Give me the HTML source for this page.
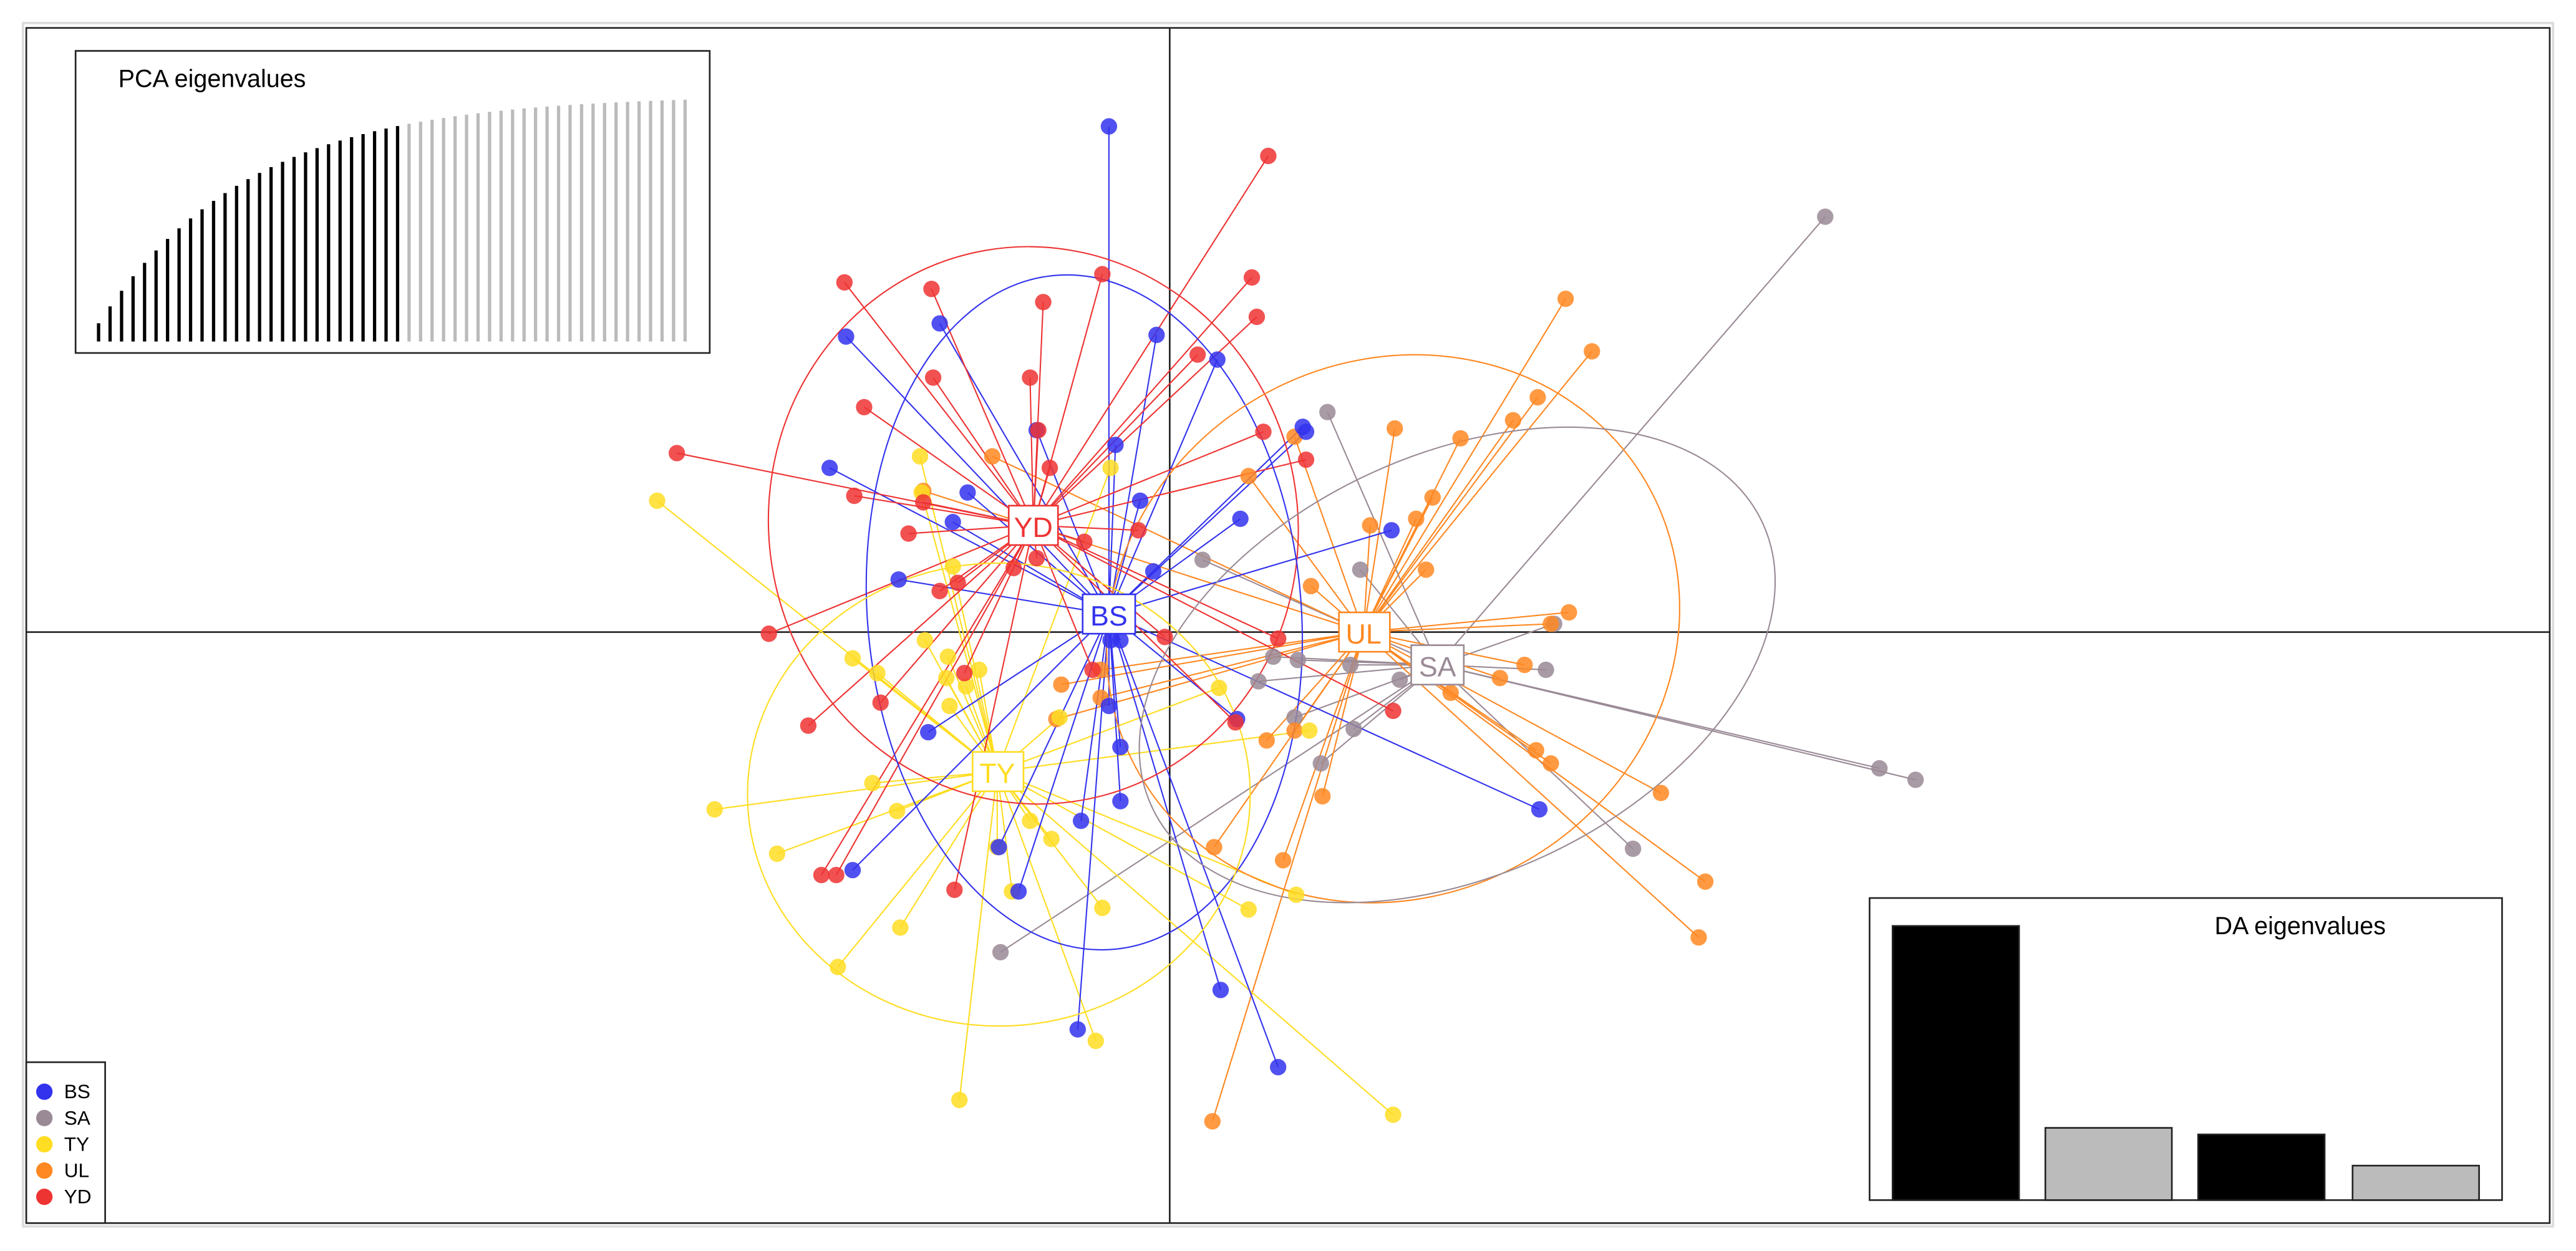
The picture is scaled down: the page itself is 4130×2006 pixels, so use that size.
<!DOCTYPE html>
<html><head><meta charset="utf-8"><style>
html,body{margin:0;padding:0;background:#fff;}
svg{display:block;}
text{font-family:"Liberation Sans",sans-serif;}
</style></head><body>
<svg id="s" width="4130" height="2006" viewBox="0 0 1568 762" preserveAspectRatio="none" xmlns="http://www.w3.org/2000/svg">
<rect x="0" y="0" width="1568" height="762" fill="#fff"/>
<rect x="14" y="14" width="1540" height="733" fill="none" stroke="#ddd" stroke-width="1.5"/>
<rect x="16" y="17" width="1536" height="728" fill="none" stroke="#222" stroke-width="1"/>
<line x1="16" y1="385" x2="1552" y2="385" stroke="#222" stroke-width="1"/>
<line x1="712" y1="17" x2="712" y2="745" stroke="#222" stroke-width="1"/>
<g id="lines" stroke-width="0.8"></g>
<g fill="none" stroke-width="0.8">
<ellipse cx="629" cy="320" rx="161" ry="170" stroke="#ee3333" transform="rotate(-10 629 320)"/>
<ellipse cx="660" cy="373" rx="132" ry="206" stroke="#3333ee" transform="rotate(-5 660 373)"/>
<ellipse cx="608" cy="484" rx="153" ry="141" stroke="#ffdd22"/>
<ellipse cx="848" cy="383" rx="178" ry="163" stroke="#ff8822" transform="rotate(-30 848 383)"/>
<ellipse cx="887" cy="405" rx="205" ry="128" stroke="#9a8a96" transform="rotate(-25 887 405)"/>
</g>
<g id="dots"></g>
<g font-size="17">
<rect x="614" y="308" width="30" height="24" fill="#fff" stroke="#ee3333"/><text x="629" y="327" fill="#ee3333" text-anchor="middle">YD</text>
<rect x="659" y="362" width="32" height="24" fill="#fff" stroke="#3333ee"/><text x="675" y="381" fill="#3333ee" text-anchor="middle">BS</text>
<rect x="815" y="373" width="31" height="24" fill="#fff" stroke="#ff8822"/><text x="830" y="392" fill="#ff8822" text-anchor="middle">UL</text>
<rect x="859" y="393" width="32" height="24" fill="#fff" stroke="#9a8a96"/><text x="875" y="412" fill="#9a8a96" text-anchor="middle">SA</text>
<rect x="592" y="458" width="31" height="24" fill="#fff" stroke="#ffdd22"/><text x="607" y="477" fill="#ffdd22" text-anchor="middle">TY</text>
</g>
<rect x="46" y="31" width="386" height="184" fill="#fff" stroke="#222"/>
<text x="72" y="53" font-size="15" fill="#000">PCA eigenvalues</text>
<g id="pca" stroke-width="2"></g>
<rect x="1138" y="547" width="385" height="184" fill="#fff" stroke="#222"/>
<text x="1348" y="569" font-size="15" fill="#000">DA eigenvalues</text>
<rect x="1152" y="564" width="77" height="167" fill="#000" stroke="#222"/>
<rect x="1245" y="687" width="77" height="44" fill="#bbb" stroke="#222"/>
<rect x="1338" y="691" width="77" height="40" fill="#000" stroke="#222"/>
<rect x="1432" y="710" width="77" height="21" fill="#bbb" stroke="#222"/>
<rect x="16" y="647" width="48" height="98" fill="#fff" stroke="#222"/>
<g font-size="12">
<circle cx="27" cy="665" r="5" fill="#3333ee"/><text x="39" y="669">BS</text>
<circle cx="27" cy="681" r="5" fill="#9a8a96"/><text x="39" y="685">SA</text>
<circle cx="27" cy="697" r="5" fill="#ffdd22"/><text x="39" y="701">TY</text>
<circle cx="27" cy="713" r="5" fill="#ff8822"/><text x="39" y="717">UL</text>
<circle cx="27" cy="729" r="5" fill="#ee3333"/><text x="39" y="733">YD</text>
</g>
</svg>
<script>
(function(){
var NS="http://www.w3.org/2000/svg";
var G={
BS:{c:[675,374],col:"#3333ee",p:[[675,77],[515,205],[572,197],[704,204],[741,219],[505,285],[589,300],[580,318],[631,262],[679,271],[694,305],[547,353],[702,348],[793,260],[795,263],[755,316],[847,323],[565,446],[675,430],[682,455],[658,500],[682,488],[608,516],[620,543],[519,530],[656,627],[743,603],[778,650],[937,493],[753,438],[676,390],[682,390]]},
YD:{c:[629,320],col:"#ee3333",p:[[772,95],[514,172],[567,176],[635,184],[671,167],[762,169],[765,193],[729,216],[568,230],[627,230],[526,248],[632,262],[639,285],[412,276],[520,302],[562,306],[553,325],[769,263],[795,280],[693,323],[660,330],[583,355],[572,360],[617,346],[631,340],[468,386],[709,388],[778,389],[587,410],[536,428],[492,442],[848,433],[752,440],[665,408],[500,533],[509,533],[581,542]]},
TY:{c:[607,470],col:"#ffdd22",p:[[400,305],[560,278],[676,285],[561,300],[580,345],[519,401],[534,410],[563,390],[577,400],[576,413],[596,408],[578,430],[588,418],[435,493],[473,520],[546,494],[531,477],[548,565],[510,589],[607,516],[616,543],[640,511],[667,634],[671,553],[645,437],[742,419],[760,554],[797,445],[789,545],[848,679],[584,670],[627,500]]},
UL:{c:[830,385],col:"#ff8822",p:[[953,182],[969,214],[936,242],[921,256],[889,267],[849,261],[872,303],[862,316],[868,347],[834,320],[798,357],[760,290],[604,278],[562,299],[788,266],[955,373],[944,380],[928,405],[913,413],[883,422],[935,457],[944,465],[1011,483],[1038,537],[1034,571],[771,451],[739,516],[781,524],[805,485],[738,683],[670,408],[646,417],[643,438],[670,425],[788,445]]},
SA:{c:[875,405],col:"#9a8a96",p:[[1111,132],[808,251],[732,341],[828,347],[946,380],[941,408],[766,415],[775,400],[790,402],[822,405],[852,414],[788,437],[804,465],[824,444],[994,517],[1144,468],[1166,475],[609,580]]}
};
var L=document.getElementById("lines"),D=document.getElementById("dots");
["SA","UL","TY","BS","YD"].forEach(function(k){var g=G[k];g.p.forEach(function(p){
var l=document.createElementNS(NS,"line");l.setAttribute("x1",g.c[0]);l.setAttribute("y1",g.c[1]);l.setAttribute("x2",p[0]);l.setAttribute("y2",p[1]);l.setAttribute("stroke",g.col);L.appendChild(l);
var c=document.createElementNS(NS,"circle");c.setAttribute("cx",p[0]);c.setAttribute("cy",p[1]);c.setAttribute("r",5);c.setAttribute("fill",g.col);c.setAttribute("fill-opacity","0.85");D.appendChild(c);});});
var P=document.getElementById("pca");
for(var i=0;i<52;i++){var x=60+i*7;var ty=208-150*(1-Math.exp(-(i+1)/13));
var l=document.createElementNS(NS,"line");l.setAttribute("x1",x);l.setAttribute("x2",x);l.setAttribute("y1",208);l.setAttribute("y2",ty);l.setAttribute("stroke",i<27?"#000":"#bbb");P.appendChild(l);}
})();
</script>
</body></html>
